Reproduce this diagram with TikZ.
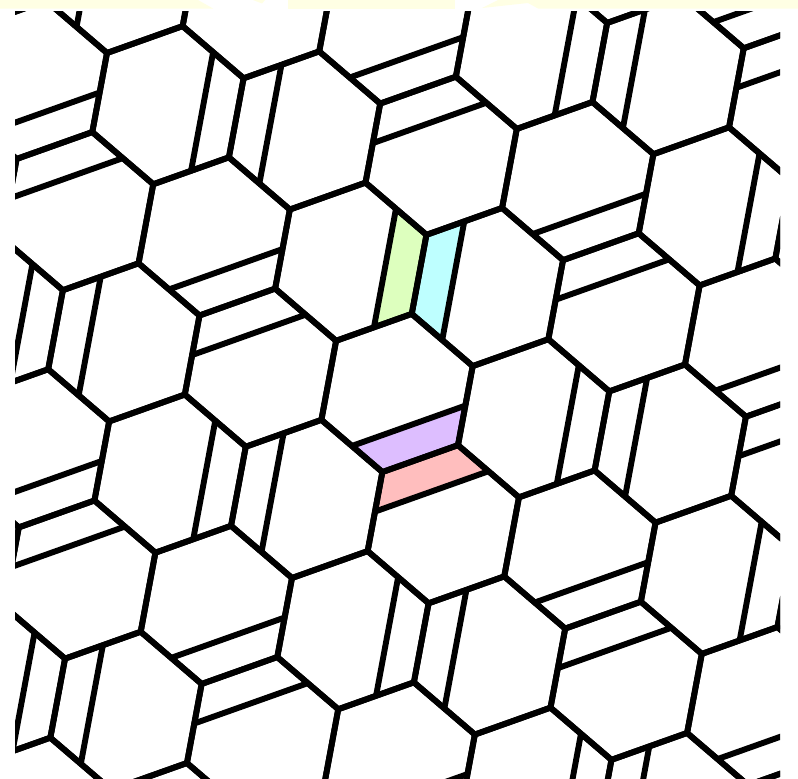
\documentclass[tikz,border=0pt]{standalone}
\definecolor{bandyellow}{RGB}{255,255,228}
\definecolor{tilegreen}{RGB}{221,255,190}
\definecolor{tilecyan}{RGB}{190,255,255}
\definecolor{tilepurple}{RGB}{221,190,255}
\definecolor{tilepink}{RGB}{255,190,190}
\begin{document}
\begin{tikzpicture}[x=1pt,y=-1pt,
  tileline/.style={line width=5.9pt,black,line join=miter},
  chordline/.style={line width=5.9pt,black,line cap=butt}]
\useasboundingbox (0,0) rectangle (798,779);
\fill[white] (0,0) rectangle (798,779);
% pale band at the top
\fill[bandyellow] (0,0) -- (198,0) -- (213,8.5) -- (0,8.5) -- cycle;
\fill[bandyellow] (253,0) -- (265,0) -- (262,3.5) -- cycle;
\fill[bandyellow] (288,0) -- (455,0) -- (455,8.5) -- (288,8.5) -- cycle;
\fill[bandyellow] (482,8) -- (498,0) -- (798,0) -- (798,8.5) -- (538,8.5) -- (528,3) -- cycle;
\begin{scope}
\clip (15,11) rectangle (780,779);
% coloured tiles
\fill[tilegreen] (426.45,234.85) -- (395.975,208.765) -- (373.925,327.37) -- (411.75,313.92) -- cycle;
\fill[tilecyan] (426.45,234.85) -- (464.275,221.4) -- (442.225,340.005) -- (411.75,313.92) -- cycle;
\fill[tilepurple] (382.35,472.05) -- (351.875,445.965) -- (465.35,405.615) -- (458,445.15) -- cycle;
\fill[tilepink] (382.35,472.05) -- (375,511.585) -- (488.475,471.235) -- (458,445.15) -- cycle;
% hexagonal grid
\foreach \m in {-6,...,6}{
  \foreach \n in {-2,...,7}{
    \pgfmathsetmacro{\px}{107+136.6*\m+46.25*\n}
    \pgfmathsetmacro{\py}{53+25.3*\m+131.25*\n}
    \draw[tileline] (\px,\py) -- ++(75.65,-26.9) -- ++(60.95,52.17) -- ++(-14.7,79.07)
      -- ++(-75.65,26.9) -- ++(-60.95,-52.17) -- cycle;
  }
}
% chords beside the decorated edges
\foreach \m in {-6,...,6}{
  \foreach \n in {-2,...,7}{
    \pgfmathsetmacro{\px}{107+136.6*\m+46.25*\n}
    \pgfmathsetmacro{\py}{53+25.3*\m+131.25*\n}
    \pgfmathtruncatemacro{\modv}{mod(\m-\n+400,4)}
    \ifnum\modv=2
      \draw[chordline] (\px,\py) ++(-30.475,-26.085) -- ++(113.475,-40.35);
      \draw[chordline] (\px,\py) ++(-7.35,39.535) -- ++(113.475,-40.35);
    \fi
    \ifnum\modv=0
      \draw[chordline] (\px,\py) ++(136.6,25.3) ++(-30.475,-26.085) -- ++(-22.05,118.605);
      \draw[chordline] (\px,\py) ++(136.6,25.3) ++(37.825,-13.45) -- ++(-22.05,118.605);
    \fi
  }
}
\end{scope}
\end{tikzpicture}
\end{document}
